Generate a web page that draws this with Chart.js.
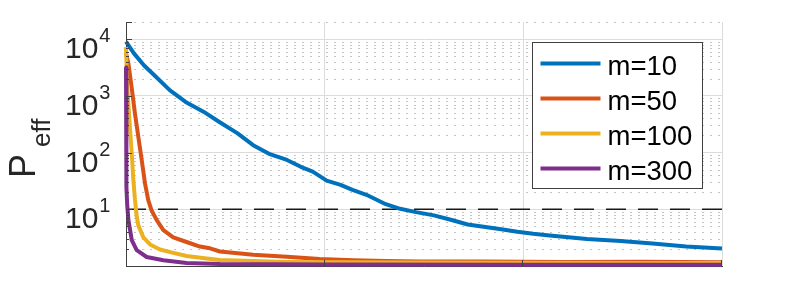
<!DOCTYPE html>
<html>
<head>
<meta charset="utf-8">
<script src="https://cdn.jsdelivr.net/npm/chart.js@4.4.0/dist/chart.umd.min.js"></script>
<style>
  html, body { margin: 0; padding: 0; background: #fff; }
  #wrap { width: 798px; height: 300px; }
</style>
</head>
<body>
<div id="wrap"><canvas id="peffChart" width="798" height="300"></canvas></div>
<script>
// values (x = iteration, y = P_eff, log scale)
const iters10 = [0, 40, 90, 140, 220, 300, 390, 470, 560, 640, 720, 810, 880, 940, 1010, 1080, 1140, 1210, 1300, 1380, 1460, 1550, 1630, 1720, 1800, 1880, 1970, 2050, 2120, 2320, 2490, 2650, 2820, 3000];
const peff10 = [9000, 5600, 3450, 2350, 1260, 780, 525, 345, 220, 135, 95, 74, 56, 46, 32, 27, 22, 18, 12.6, 10.2, 8.9, 7.8, 6.6, 5.4, 4.9, 4.5, 4.0, 3.7, 3.5, 3.0, 2.75, 2.5, 2.2, 2.04];

const iters50 = [0, 12, 28, 45, 62, 79, 96, 112, 129, 154, 188, 238, 305, 372, 423, 473, 640, 810, 975, 1145, 1310, 1480, 1800, 2200, 2600, 3000];
const peff50 = [5600, 3700, 1450, 490, 190, 74, 28, 14.5, 9.5, 6.5, 4.3, 3.2, 2.65, 2.2, 2.05, 1.8, 1.58, 1.45, 1.33, 1.26, 1.22, 1.2, 1.2, 1.18, 1.19, 1.17];

const iters100 = [0, 6, 17, 29, 37, 45, 54, 62, 87, 121, 171, 238, 305, 406, 473, 640, 810, 1150, 1480, 2000, 2500, 3000];
const peff100 = [7200, 1500, 380, 95, 33, 15, 7.5, 5.2, 3.2, 2.4, 1.95, 1.7, 1.5, 1.35, 1.27, 1.22, 1.18, 1.16, 1.15, 1.14, 1.13, 1.13];

const iters300 = [0, 1, 3, 6, 12, 29, 54, 104, 188, 305, 473, 1000, 2000, 3000];
const peff300 = [3200, 400, 25, 12, 6.5, 2.85, 1.9, 1.44, 1.26, 1.13, 1.08, 1.06, 1.05, 1.05];

const seriesLabels = ["m=10", "m=50", "m=100", "m=300"];
const thresholdLevel = 10;
const xRange = [0, 3000];
const yRange = [1, 20000];
const xGridValues = [0, 1000, 2000, 3000];
const yTickExponents = [1, 2, 3, 4];

const COLORS = ["#0072BD", "#D95319", "#EDB120", "#7E2F8E"];
const FONT = "'Liberation Sans', Arial, Helvetica, sans-serif";
const TEXT = "#262626";
const AXIS = "#404040";

const toPoints = (xs, ys) => xs.map((x, i) => ({ x, y: ys[i] }));

const minorValues = () => {
  const out = [];
  for (let d = 0; d <= 4; d++) {
    for (let k = 2; k <= 9; k++) {
      const v = k * Math.pow(10, d);
      if (v > yRange[0] && v <= yRange[1]) out.push(v);
    }
  }
  return out;
};

const matlabLook = {
  id: "matlabLook",
  beforeDatasetsDraw(chart) {
    const { ctx, chartArea: a, scales } = chart;
    ctx.save();
    ctx.strokeStyle = "#c4c4c4";
    ctx.lineWidth = 1;
    ctx.setLineDash([2, 6]);
    minorValues().forEach((v) => {
      const py = Math.round(scales.y.getPixelForValue(v)) + 0.5;
      ctx.beginPath();
      ctx.moveTo(a.left, py);
      ctx.lineTo(a.right, py);
      ctx.stroke();
    });
    ctx.restore();
  },
  afterDraw(chart) {
    const { ctx, chartArea: a, scales } = chart;
    const { x, y } = scales;
    ctx.save();

    // inward tick marks
    ctx.strokeStyle = AXIS;
    ctx.lineWidth = 1;
    ctx.beginPath();
    minorValues().forEach((v) => {
      const py = Math.round(y.getPixelForValue(v)) + 0.5;
      const len = v === yRange[1] ? 6 : 3;
      ctx.moveTo(a.left, py);
      ctx.lineTo(a.left + len, py);
    });
    yTickExponents.forEach((e) => {
      const py = Math.round(y.getPixelForValue(Math.pow(10, e))) + 0.5;
      ctx.moveTo(a.left, py);
      ctx.lineTo(a.left + 6, py);
    });
    xGridValues.slice(1).forEach((v) => {
      const px = Math.round(x.getPixelForValue(v)) - 0.5;
      ctx.moveTo(px, a.bottom);
      ctx.lineTo(px, a.bottom - 6);
    });
    ctx.stroke();

    // y tick labels 10^n
    ctx.fillStyle = TEXT;
    ctx.textBaseline = "alphabetic";
    ctx.textAlign = "left";
    yTickExponents.forEach((e) => {
      const py = y.getPixelForValue(Math.pow(10, e));
      ctx.font = "30px " + FONT;
      ctx.fillText("10", 65, py + 19);
      const w = ctx.measureText("10").width;
      ctx.font = "20px " + FONT;
      ctx.fillText(String(e), 65 + w + 1, py + 3);
    });

    // y axis title P_eff
    ctx.save();
    ctx.translate(35, 178);
    ctx.rotate(-Math.PI / 2);
    ctx.font = "36px " + FONT;
    ctx.fillText("P", 0, 0);
    ctx.font = "26px " + FONT;
    ctx.fillText("eff", 31, 15);
    ctx.restore();

    // legend box
    const lw = 170, lh = 146;
    const lx = Math.round(a.right - 20 - lw) + 0.5;
    const ly = Math.round(a.top + 20) + 0.5;
    ctx.fillStyle = "#fff";
    ctx.fillRect(lx, ly, lw, lh);
    ctx.strokeStyle = AXIS;
    ctx.lineWidth = 1;
    ctx.strokeRect(lx, ly, lw, lh);
    seriesLabels.forEach((label, i) => {
      const rowY = ly + 21 + i * 35;
      ctx.strokeStyle = COLORS[i];
      ctx.lineWidth = 4;
      ctx.beginPath();
      ctx.moveTo(lx + 8, rowY);
      ctx.lineTo(lx + 68, rowY);
      ctx.stroke();
      ctx.fillStyle = "#000";
      ctx.font = "27.5px " + FONT;
      ctx.fillText(label, lx + 75, rowY + 11);
    });

    ctx.restore();
  },
};

const seriesX = [iters10, iters50, iters100, iters300];
const seriesY = [peff10, peff50, peff100, peff300];

const datasets = seriesLabels.map((label, i) => ({
  label,
  data: toPoints(seriesX[i], seriesY[i]),
  borderColor: COLORS[i],
  borderWidth: 4,
  pointRadius: 0,
  tension: 0,
  fill: false,
  borderJoinStyle: "round",
  clip: 4,
  order: 4 - i,
}));

datasets.push({
  label: "threshold",
  data: [
    { x: xRange[0], y: thresholdLevel },
    { x: xRange[1], y: thresholdLevel },
  ],
  borderColor: "#1a1a1a",
  borderWidth: 1.3,
  borderDash: [20, 12],
  pointRadius: 0,
  fill: false,
  order: 10,
});

new Chart(document.getElementById("peffChart"), {
  type: "line",
  data: { datasets },
  plugins: [matlabLook],
  options: {
    responsive: false,
    animation: false,
    devicePixelRatio: 1,
    layout: { padding: { top: 22, right: 76, bottom: 34, left: 0 } },
    plugins: { legend: { display: false }, tooltip: { enabled: false } },
    scales: {
      x: {
        type: "linear",
        min: xRange[0],
        max: xRange[1],
        ticks: { display: false },
        grid: { color: "#dcdcdc", lineWidth: 1, drawTicks: false },
        border: { display: true, color: AXIS, width: 1 },
        afterBuildTicks: (scale) => {
          scale.ticks = xGridValues.map((value) => ({ value }));
        },
        afterFit: (scale) => {
          scale.height = 0;
        },
      },
      y: {
        type: "logarithmic",
        min: yRange[0],
        max: yRange[1],
        bounds: "data",
        ticks: { display: false },
        grid: { color: "#dcdcdc", lineWidth: 1, drawTicks: false },
        border: { display: true, color: AXIS, width: 1 },
        afterBuildTicks: (scale) => {
          scale.ticks = yTickExponents.map((e) => ({ value: Math.pow(10, e) }));
        },
        afterFit: (scale) => {
          scale.width = 126;
        },
      },
    },
  },
});
</script>
</body>
</html>
